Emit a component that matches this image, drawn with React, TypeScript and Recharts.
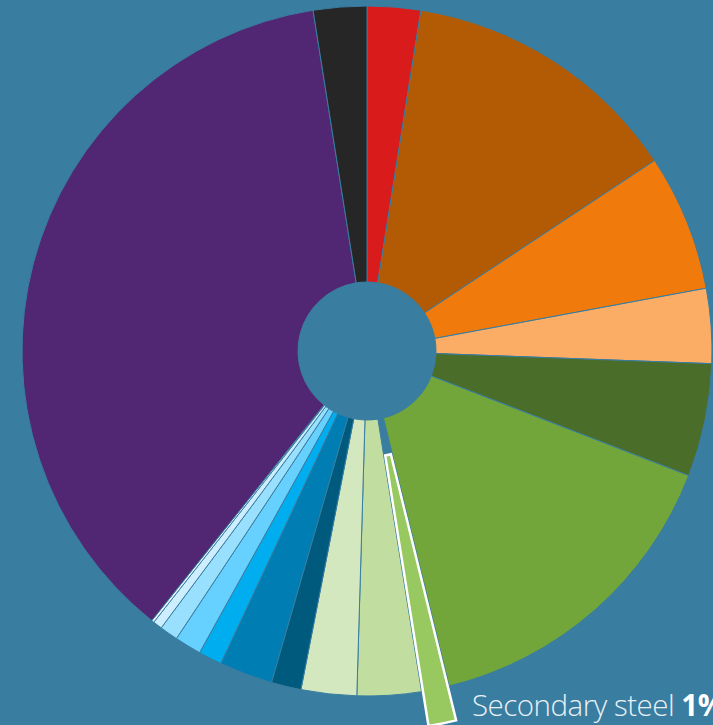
import React from 'react';
import { PieChart, Pie, Cell, Sector } from 'recharts';

const categories = [
  'Red', 'Brown', 'Orange', 'Light orange', 'Dark green', 'Green',
  'Secondary steel', 'Pale green', 'Paler green', 'Navy', 'Blue',
  'Bright blue', 'Light blue', 'Lighter blue', 'Lightest blue', 'Very light blue',
  'Purple', 'Black',
];
const values = [
  2.5, 13.2, 6.4, 3.5, 5.3, 15.3,
  1.3, 3.0, 2.6, 1.4, 2.5,
  1.1, 1.25, 0.86, 0.43, 0.12,
  36.8, 2.5,
];
const colors = [
  '#da1b1c', '#b35a05', '#f07a0b', '#fbad66', '#4a6e29', '#72a63b',
  '#98c860', '#c1dea0', '#d4e8c0', '#005a7e', '#007db2',
  '#00aeef', '#66d0ff', '#99e0ff', '#cceeff', '#e8f7ff',
  '#512673', '#262626',
];
const highlightName = 'Secondary steel';
const highlightLabel = 'Secondary steel';
const highlightPct = '1%';

const BG = '#397da0';
const data = categories.map((name, i) => ({ name, value: values[i] }));
const RADIAN = Math.PI / 180;

const renderLabel = (props: any) => {
  if (props.name !== highlightName) return null;
  const { cx, cy, innerRadius, outerRadius, startAngle, endAngle, midAngle } = props;
  const off = 35;
  const ncx = cx + Math.cos(-midAngle * RADIAN) * off;
  const ncy = cy + Math.sin(-midAngle * RADIAN) * off;
  return (
    <g>
      <Sector
        cx={ncx}
        cy={ncy}
        innerRadius={innerRadius + 2}
        outerRadius={outerRadius}
        startAngle={startAngle}
        endAngle={endAngle}
        fill={colors[6]}
        stroke="#ffffff"
        strokeWidth={2.5}
      />
      <text x={472} y={716} fill="#e8f0f5" fontSize={29.5} letterSpacing={-0.5} fontFamily="'Open Sans', sans-serif">
        <tspan fontWeight={300}>{highlightLabel} </tspan>
        <tspan fontWeight={700} fill="#ffffff">{highlightPct}</tspan>
      </text>
    </g>
  );
};

export default function App() {
  return (
    <div style={{ position: 'fixed', left: 0, top: 0, width: 713, height: 725, background: BG, overflow: 'hidden' }}>
      <PieChart width={713} height={725} margin={{ top: 0, right: 0, bottom: 0, left: 0 }}>
        <Pie
          data={data}
          dataKey="value"
          nameKey="name"
          cx={367}
          cy={351}
          innerRadius={69}
          outerRadius={345}
          startAngle={90}
          endAngle={-270}
          stroke={BG}
          strokeWidth={1}
          label={renderLabel}
          labelLine={false}
          isAnimationActive={false}
        >
          {data.map((d, i) => (
            <Cell
              key={d.name}
              fill={d.name === highlightName ? 'none' : colors[i]}
              stroke={d.name === highlightName ? 'none' : BG}
            />
          ))}
        </Pie>
      </PieChart>
    </div>
  );
}
